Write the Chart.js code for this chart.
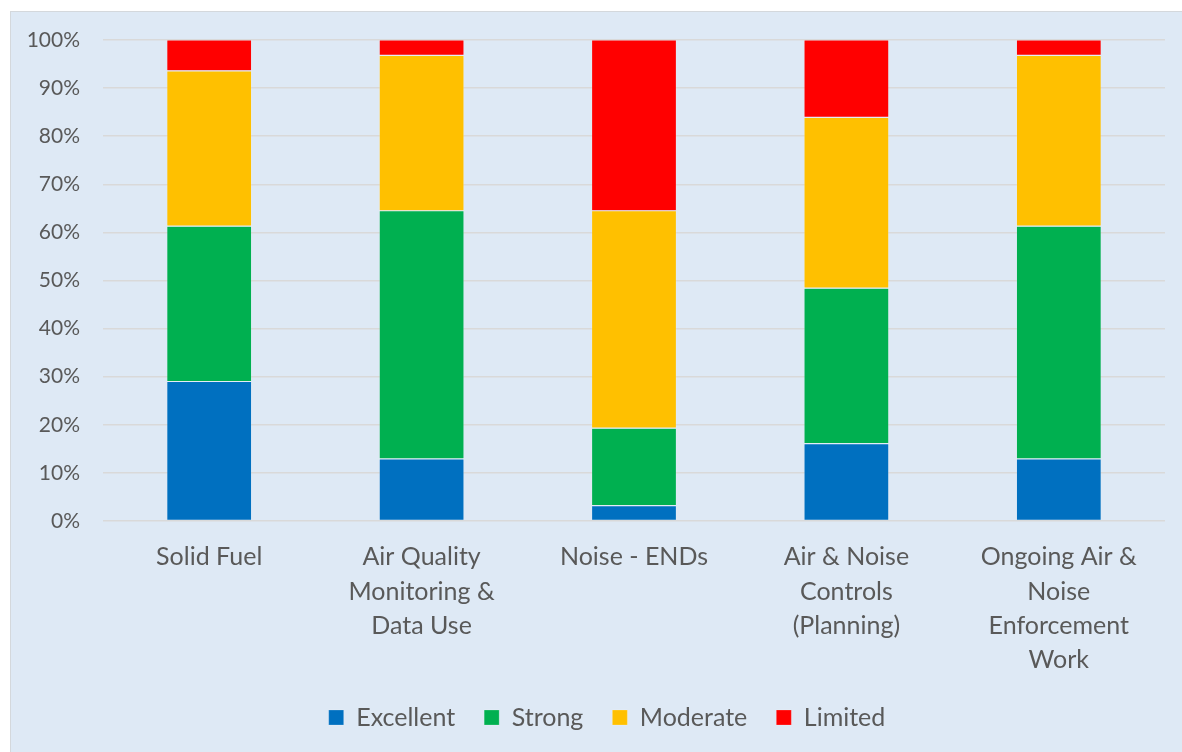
<!DOCTYPE html>
<html>
<head>
<meta charset="utf-8">
<script src="https://cdn.jsdelivr.net/npm/chart.js@4/dist/chart.umd.min.js"></script>
<style>
  html, body { margin: 0; padding: 0; background: #ffffff; }
  #frame {
    position: absolute; left: 10px; top: 11px;
    width: 1171px; height: 740px;
    background: #DEE9F5;
    border-left: 1px solid #D4D8DC; border-top: 1px solid #D4D8DC;
  }
  #chart { display: block; }
</style>
</head>
<body>
<div id="frame"><canvas id="chart" width="1171" height="740"></canvas></div>
<script>
// Categories (multi-line labels)
const categories = [
  ['Solid Fuel'],
  ['Air Quality', 'Monitoring &', 'Data Use'],
  ['Noise - ENDs'],
  ['Air & Noise', 'Controls', '(Planning)'],
  ['Ongoing Air &', 'Noise', 'Enforcement', 'Work']
];

// Share of responses per rating, in percent
const excellent = [29.0, 12.9, 3.2, 16.1, 12.9];
const strong    = [32.3, 51.6, 16.1, 32.3, 48.4];
const moderate  = [32.3, 32.3, 45.2, 35.5, 35.5];
const limited   = [6.4,  3.2,  35.5, 16.1, 3.2];

const seriesNames  = ['Excellent', 'Strong', 'Moderate', 'Limited'];
const seriesColors = ['#0070C0', '#00B050', '#FFC000', '#FF0000'];
const yTicks = [0, 10, 20, 30, 40, 50, 60, 70, 80, 90, 100];

const textColor = '#595959';
const fontFamily = 'Lato, "Liberation Sans", sans-serif';

const seriesValues = [excellent, strong, moderate, limited];
const datasets = seriesNames.map((name, i) => ({
  label: name,
  data: seriesValues[i],
  backgroundColor: seriesColors[i],
  borderColor: 'rgba(255,255,255,0.35)',
  borderWidth: 0.6,
  borderSkipped: false,
  barPercentage: 0.8,
  categoryPercentage: 0.5
}));

// Nudge the legend row to the right of the canvas centre
const legendShift = {
  id: 'legendShift',
  afterLayout(chart) {
    if (chart.legend) { chart.legend.left += 19; chart.legend.right += 19; }
  }
};

new Chart(document.getElementById('chart'), {
  type: 'bar',
  data: { labels: categories, datasets },
  plugins: [legendShift],
  options: {
    responsive: false,
    animation: false,
    layout: { padding: { top: 0, right: 17, bottom: 12, left: 0 } },
    scales: {
      x: {
        stacked: true,
        grid: { display: false, drawTicks: false },
        border: { display: false },
        ticks: {
          color: textColor,
          font: { family: fontFamily, size: 25, lineHeight: 1.372 },
          padding: 19,
          maxRotation: 0,
          autoSkip: false
        },
        afterFit: (s) => { s.height = 155; }
      },
      y: {
        stacked: true,
        min: 0,
        max: 100,
        afterBuildTicks: (s) => { s.ticks = yTicks.map(v => ({ value: v })); },
        grid: { color: '#D9D9D9', lineWidth: 1.5, drawTicks: false },
        border: { display: false },
        ticks: {
          color: textColor,
          font: { family: fontFamily, size: 21 },
          padding: 23,
          callback: (v) => v + '%'
        },
        afterFit: (s) => { s.width = 92; s.paddingTop = 28; s.paddingBottom = 0; }
      }
    },
    plugins: {
      legend: {
        position: 'bottom',
        labels: {
          color: textColor,
          font: { family: fontFamily, size: 25 },
          boxWidth: 15,
          boxHeight: 15,
          padding: 29
        }
      },
      tooltip: { enabled: false }
    }
  }
});
</script>
</body>
</html>
